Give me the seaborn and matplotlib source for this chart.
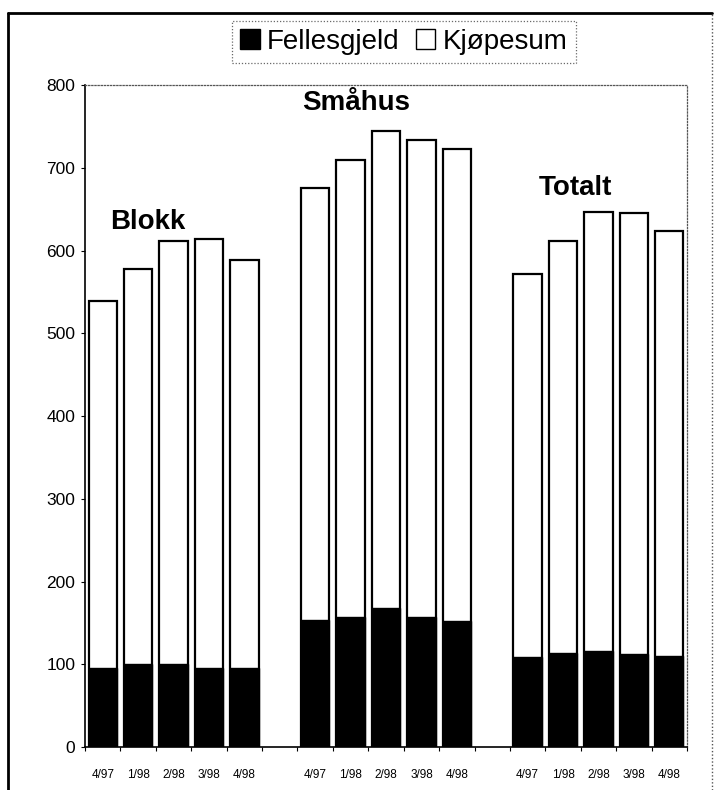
import pandas as pd
import matplotlib.pyplot as plt
import seaborn as sns
from matplotlib.patches import Patch
from matplotlib.lines import Line2D

quarters = ["4/97", "1/98", "2/98", "3/98", "4/98"]
groups = ["Blokk", "Småhus", "Totalt"]

# Fellesgjeld (black) and Kjøpesum (white) per quarter
blokk_felles = [96, 100, 100, 95, 95]
blokk_kjop = [443, 478, 512, 519, 493]
smahus_felles = [153, 157, 168, 157, 152]
smahus_kjop = [522, 552, 577, 577, 571]
totalt_felles = [109, 114, 116, 112, 110]
totalt_kjop = [463, 498, 531, 533, 514]

felles = {"Blokk": blokk_felles, "Småhus": smahus_felles, "Totalt": totalt_felles}
kjop = {"Blokk": blokk_kjop, "Småhus": smahus_kjop, "Totalt": totalt_kjop}

rows = []
for g in groups:
    for q, f, k in zip(quarters, felles[g], kjop[g]):
        rows.append({"key": f"{g} {q}", "felles": f, "total": f + k})
df = pd.DataFrame(rows)

# one empty slot between the groups
order = []
labels = []
for i, g in enumerate(groups):
    order += [f"{g} {q}" for q in quarters]
    labels += quarters
    if i < len(groups) - 1:
        order.append(f"gap{i}")
        labels.append("")

sns.set_style("white")
plt.rcParams["font.family"] = ["Liberation Sans", "DejaVu Sans"]
plt.rcParams["text.color"] = "black"
plt.rcParams["xtick.color"] = "black"
plt.rcParams["ytick.color"] = "black"

fig = plt.figure(figsize=(7.16, 7.90), dpi=100)
ax = fig.add_axes([0.1187, 0.0544, 0.8408, 0.8380])

sns.barplot(data=df, x="key", y="total", order=order, color="white",
            edgecolor="black", linewidth=1.6, width=0.8, ax=ax)
sns.barplot(data=df, x="key", y="felles", order=order, color="black",
            edgecolor="black", linewidth=1.0, width=0.8, ax=ax)

ax.set_xlim(-0.5, len(order) - 0.5)
ax.set_ylim(0, 800)
ax.set_yticks(range(0, 801, 100))
ax.tick_params(axis="y", labelsize=12.5, length=3, width=0.8, direction="out", pad=4, left=True)
ax.set_xticks(range(len(order)))
ax.set_xticklabels(labels, fontsize=8.5)
ax.set_xticks([i - 0.5 for i in range(len(order) + 1)], minor=True)
ax.tick_params(axis="x", which="major", length=0, pad=16)
ax.tick_params(axis="x", which="minor", length=3, width=0.8, direction="out", bottom=True)
ax.set_xlabel("")
ax.set_ylabel("")
ax.grid(False)

for side in ["left", "bottom"]:
    ax.spines[side].set_color("black")
    ax.spines[side].set_linewidth(1.2)
for side in ["top", "right"]:
    ax.spines[side].set_color("#555555")
    ax.spines[side].set_linestyle((0, (1, 1.5)))
    ax.spines[side].set_linewidth(0.9)

ax.text(1.28, 634, "Blokk", ha="center", va="center", fontsize=20, fontweight="bold")
ax.text(7.16, 778, "Småhus", ha="center", va="center", fontsize=20, fontweight="bold")
ax.text(13.34, 676, "Totalt", ha="center", va="center", fontsize=20, fontweight="bold")

handles = [Patch(facecolor="black", edgecolor="black", label="Fellesgjeld"),
           Patch(facecolor="white", edgecolor="black", label="Kjøpesum")]
leg = fig.legend(handles=handles, loc="center", bbox_to_anchor=(0.564, 0.947), ncol=2,
                 fontsize=20, frameon=True, fancybox=False, handlelength=0.7,
                 handleheight=0.7, handletextpad=0.25, columnspacing=0.6,
                 borderpad=0.3, borderaxespad=0)
leg.get_frame().set_edgecolor("#444444")
leg.get_frame().set_linestyle((0, (1, 1.5)))
leg.get_frame().set_linewidth(0.9)

# outer frame of the figure: solid left and top, dotted right
x0, x1, ytop = 8 / 716, 712 / 716, 1 - 13 / 790
fig.add_artist(Line2D([x0, x0], [0, ytop], transform=fig.transFigure, color="black", linewidth=2))
fig.add_artist(Line2D([x0, x1], [ytop, ytop], transform=fig.transFigure, color="black", linewidth=2))
fig.add_artist(Line2D([x1, x1], [0, ytop], transform=fig.transFigure, color="#555555",
                      linewidth=1, linestyle=(0, (1, 1.5))))

fig.savefig("out.png", dpi=100)
